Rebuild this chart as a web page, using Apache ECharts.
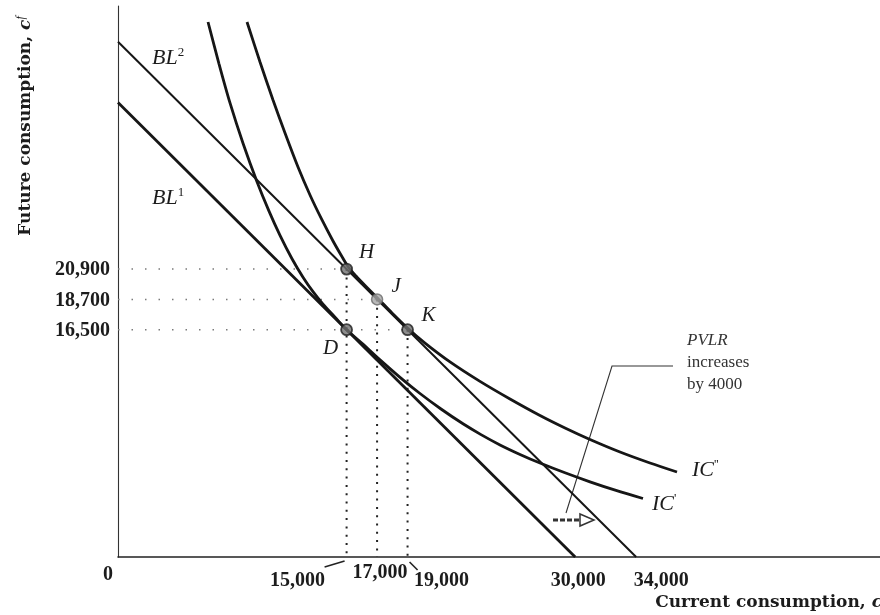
<!DOCTYPE html>
<html><head><meta charset="utf-8">
<script src="https://cdn.jsdelivr.net/npm/echarts@6/dist/echarts.min.js"></script>
<style>html,body{margin:0;padding:0;background:#fff}#c{width:880px;height:615px}</style>
</head><body><div id="c"></div>
<script>
// ---- data (current consumption, future consumption) ----
const budgetLine1 = [[0, 33000], [30000, 0]];
const budgetLine2 = [[0, 37400], [34000, 0]];
const icPrime = [[5906, 38838], [6627, 35804], [7349, 32965], [8202, 30040], [9121, 27245], [9908, 25111], [10630, 23354], [11417, 21655], [12139, 20312], [12795, 19259], [13451, 18352], [14239, 17408], [15000, 16500], [16011, 15514], [17192, 14309], [18504, 13045], [19816, 11869], [21194, 10744], [22638, 9670], [23819, 8886], [25066, 8138], [26378, 7448], [27690, 6824], [29331, 6113], [30971, 5459], [32677, 4835], [34449, 4247]];
const icDoublePrime = [[8465, 38838], [9318, 35935], [10171, 33176], [10958, 30780], [11811, 28312], [12598, 26279], [13386, 24465], [14108, 22940], [14633, 21924], [15092, 21089], [15617, 20399], [16273, 19637], [16995, 18838], [17979, 17713], [19029, 16588], [20144, 15528], [21785, 14163], [23753, 12748], [25722, 11470], [27690, 10272], [29331, 9365], [30971, 8530], [32940, 7622], [34908, 6824], [36680, 6171]];
const pointNames = ['H', 'J', 'K', 'D'];
const pointX = [15000, 17000, 19000, 15000];
const pointY = [20900, 18700, 16500, 16500];
const xTickValues = [0, 15000, 17000, 19000, 30000, 34000];
const xTickLabels = ['0', '15,000', '17,000', '19,000', '30,000', '34,000'];
const yTickValues = [20900, 18700, 16500];
const yTickLabels = ['20,900', '18,700', '16,500'];

const SERIF = '"Liberation Serif", "DejaVu Serif", serif';
const WIDE = '"DejaVu Serif", "Liberation Serif", serif';
const INK = '#161616';

const chart = echarts.init(document.getElementById('c'), null, {renderer: 'canvas'});

const series = [
  {type: 'line', data: budgetLine1, symbol: 'none', lineStyle: {color: INK, width: 2.8}, z: 3},
  {type: 'line', data: budgetLine2, symbol: 'none', lineStyle: {color: INK, width: 2}, z: 3},
  {type: 'line', data: icPrime, smooth: 0.3, symbol: 'none', lineStyle: {color: INK, width: 2.8}, z: 3},
  {type: 'line', data: icDoublePrime, smooth: 0.3, symbol: 'none', lineStyle: {color: INK, width: 2.8}, z: 3}
];
// vertical dotted drop lines (H, J, K)
for (let i = 0; i < 3; i++) {
  series.push({type: 'line', data: [[pointX[i], pointY[i]], [pointX[i], 0]], symbol: 'none',
    lineStyle: {color: '#222', width: 2, type: [2, 6.3]}, z: 2});
}
// horizontal dotted guide lines (H, J, K)
for (let i = 0; i < 3; i++) {
  series.push({type: 'line', data: [[0, pointY[i]], [pointX[i], pointY[i]]], symbol: 'none',
    lineStyle: {color: '#7a7a7a', width: 1.5, type: [1.5, 12]}, z: 2});
}
series.push({
  type: 'scatter', symbolSize: 11, z: 5,
  data: pointNames.map((n, i) => ({name: n, value: [pointX[i], pointY[i]],
    itemStyle: n === 'J' ? {color: '#a8a8a8', borderColor: '#6a6a6a', borderWidth: 1.5}
                         : {color: '#707070', borderColor: '#1e1e1e', borderWidth: 1.8}}))
});

chart.setOption({
  animation: false,
  backgroundColor: '#ffffff',
  grid: {left: 118, right: 0, top: 6, bottom: 58},
  xAxis: {type: 'value', min: 0, max: 50000,
    axisLine: {lineStyle: {color: '#222', width: 1.6}}, axisTick: {show: false},
    axisLabel: {show: false}, splitLine: {show: false}},
  yAxis: {type: 'value', min: 0, max: 40000,
    axisLine: {show: true, lineStyle: {color: '#333', width: 1.1}}, axisTick: {show: false},
    axisLabel: {show: false}, splitLine: {show: false}},
  series: series
});

// ---- text & annotations positioned from the axes ----
const px = v => chart.convertToPixel({xAxisIndex: 0}, v);
const py = v => chart.convertToPixel({yAxisIndex: 0}, v);
const axisY = py(0), axisX = px(0);
const tickFont = {fontFamily: SERIF, fontSize: 20, fontWeight: 'bold', fill: '#1c1c1c'};
const italic = {fontFamily: SERIF, fontSize: 21, fontStyle: 'italic', fill: '#1c1c1c'};
const g = [];
// x tick label offsets (dx, dy) relative to the tick position
const xOff = [[-10, 18], [-49, 24], [3, 16], [34, 24], [3, 24], [25, 24]];
xTickValues.forEach((v, i) => {
  g.push({type: 'text', x: px(v) + xOff[i][0], y: axisY + xOff[i][1],
    style: Object.assign({text: xTickLabels[i], align: 'center', verticalAlign: 'middle'}, tickFont)});
});
yTickValues.forEach((v, i) => {
  g.push({type: 'text', x: axisX - 8, y: py(v) + 1,
    style: Object.assign({text: yTickLabels[i], align: 'right', verticalAlign: 'middle'}, tickFont)});
});
// leader strokes next to 15,000 and 19,000
g.push({type: 'line', shape: {x1: px(15000) - 22, y1: axisY + 10, x2: px(15000) - 2, y2: axisY + 4},
  style: {stroke: '#222', lineWidth: 1.6}});
g.push({type: 'line', shape: {x1: px(19000) + 2, y1: axisY + 5, x2: px(19000) + 10, y2: axisY + 13},
  style: {stroke: '#222', lineWidth: 1.6}});

// axis names
g.push({type: 'text', x: 882, y: 603, style: {
  text: '{b|Current consumption, }{i|c}', align: 'right', verticalAlign: 'middle',
  rich: {b: {fontFamily: WIDE, fontSize: 17, fontWeight: 'bold', fill: '#1c1c1c'},
         i: {fontFamily: WIDE, fontSize: 17, fontWeight: 'bold', fontStyle: 'italic', fill: '#1c1c1c'}}}});
g.push({type: 'text', x: 26, y: 126, rotation: Math.PI / 2, style: {
  text: '{b|Future consumption, }{i|c}{s|f}', align: 'center', verticalAlign: 'middle',
  rich: {b: {fontFamily: WIDE, fontSize: 17, fontWeight: 'bold', fill: '#1c1c1c', lineHeight: 22},
         i: {fontFamily: WIDE, fontSize: 17, fontWeight: 'bold', fontStyle: 'italic', fill: '#1c1c1c', lineHeight: 22},
         s: {fontFamily: SERIF, fontSize: 12, fontStyle: 'italic', fill: '#1c1c1c', verticalAlign: 'top', lineHeight: 22}}}});

// point labels
const lblOff = {H: [20, -17], J: [19, -13], K: [21, -14], D: [-16, 19]};
pointNames.forEach((n, i) => {
  g.push({type: 'text', x: px(pointX[i]) + lblOff[n][0], y: py(pointY[i]) + lblOff[n][1],
    style: Object.assign({text: n, align: 'center', verticalAlign: 'middle'}, italic)});
});
// budget line & indifference curve labels
const richLbl = {
  m: {fontFamily: SERIF, fontSize: 22, fontStyle: 'italic', fill: '#1c1c1c', lineHeight: 24},
  s: {fontFamily: SERIF, fontSize: 13, fill: '#1c1c1c', verticalAlign: 'top', lineHeight: 24}
};
g.push({type: 'text', x: 152, y: 58, style: {text: '{m|BL}{s|2}', verticalAlign: 'middle', rich: richLbl}});
g.push({type: 'text', x: 152, y: 198, style: {text: '{m|BL}{s|1}', verticalAlign: 'middle', rich: richLbl}});
g.push({type: 'text', x: 692, y: 470, style: {text: "{m|IC}{s|''}", verticalAlign: 'middle', rich: richLbl}});
g.push({type: 'text', x: 652, y: 504, style: {text: "{m|IC}{s|'}", verticalAlign: 'middle', rich: richLbl}});

// PVLR annotation
g.push({type: 'text', x: 687, y: 330, style: {
  text: '{i|PVLR}\n{n|increases}\n{n|by 4000}', align: 'left', verticalAlign: 'top',
  rich: {i: {fontFamily: SERIF, fontSize: 17, fontStyle: 'italic', fill: '#333', lineHeight: 22},
         n: {fontFamily: SERIF, fontSize: 17, fill: '#333', lineHeight: 22}}}});
g.push({type: 'polyline', shape: {points: [[566, 513], [612, 366], [673, 366]]},
  style: {stroke: '#333', lineWidth: 1.1, fill: null}});
// shift arrow
g.push({type: 'line', shape: {x1: 553, y1: 520, x2: 582, y2: 520},
  style: {stroke: '#333', lineWidth: 3, lineDash: [5, 2]}});
g.push({type: 'polygon', shape: {points: [[580, 514], [594, 520], [580, 526]]},
  style: {stroke: '#333', lineWidth: 1.5, fill: '#fff'}});

chart.setOption({graphic: g});
</script></body></html>
